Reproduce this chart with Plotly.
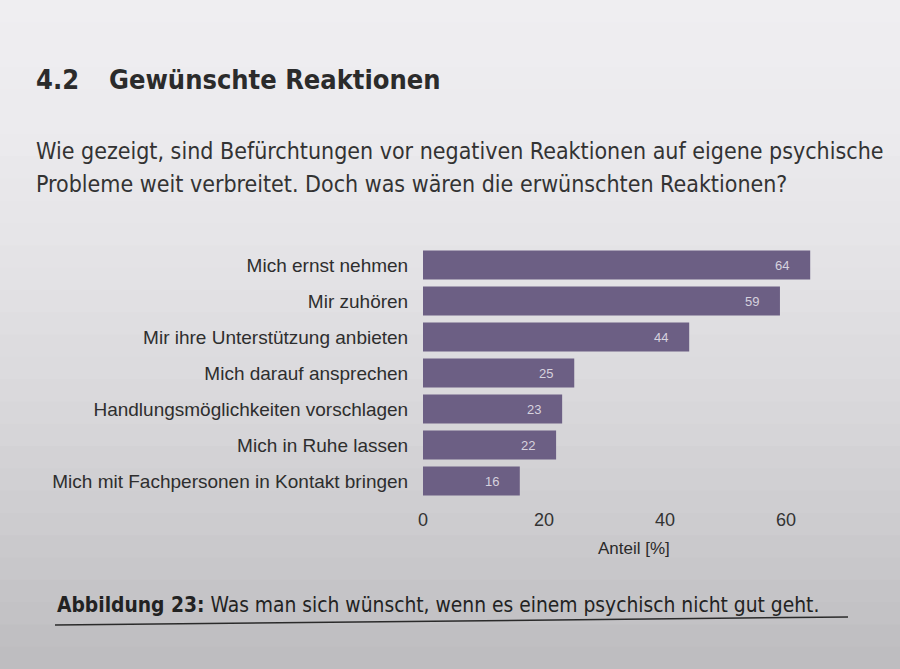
import plotly.graph_objects as go

categories = [
    "Mich ernst nehmen",
    "Mir zuhören",
    "Mir ihre Unterstützung anbieten",
    "Mich darauf ansprechen",
    "Handlungsmöglichkeiten vorschlagen",
    "Mich in Ruhe lassen",
    "Mich mit Fachpersonen in Kontakt bringen",
]
values = [64, 59, 44, 25, 23, 22, 16]
x_ticks = [0, 20, 40, 60]

section_no = "<b>4.2</b>"
section_title = "<b>Gewünschte Reaktionen</b>"
para_lines = [
    "Wie gezeigt, sind Befürchtungen vor negativen Reaktionen auf eigene psychische",
    "Probleme weit verbreitet. Doch was wären die erwünschten Reaktionen?",
]
caption_text = "<b>Abbildung 23:</b> Was man sich wünscht, wenn es einem psychisch nicht gut geht."
axis_title = "Anteil [%]"

W, H = 900, 669
L, R, T, B = 423, 70, 247, 170
PW, PH = W - L - R, H - T - B
BAR = "#6c5f84"
SANS = "Liberation Sans, Arial, sans-serif"
NARROW = "Liberation Sans Narrow, DejaVu Sans Condensed, sans-serif"


def py_to_paper(py):
    return (H - B - py) / PH


def px_to_paper(px):
    return (px - L) / PW


fig = go.Figure()
fig.add_trace(go.Bar(
    x=values, y=categories, orientation="h",
    marker=dict(color=BAR, line=dict(width=0)),
    width=0.8, hoverinfo="skip",
))

annotations = []
for c, v in zip(categories, values):
    annotations.append(dict(x=v, y=c, xref="x", yref="y", text=str(v), showarrow=False,
                            xshift=-28, font=dict(family=SANS, size=13, color="#d6d2de")))

# background shading bands (photo look: lighter top, darker bottom)
shapes = []
n = 30
band_h = H / n
for i in range(n):
    t = i / (n - 1)
    shade = int(0xef - (0xef - 0xbe) * (t ** 1.6))
    col = f"rgb({shade},{shade-1},{shade+2})"
    py0 = i * band_h
    py1 = (i + 1) * band_h + 1
    shapes.append(dict(type="rect", xref="paper", yref="paper",
                       x0=px_to_paper(-5), x1=px_to_paper(W + 5),
                       y0=py_to_paper(py1), y1=py_to_paper(py0),
                       fillcolor=col, line=dict(width=0), layer="below"))
# caption rule
shapes.append(dict(type="line", xref="paper", yref="paper",
                   x0=px_to_paper(55), y0=py_to_paper(625),
                   x1=px_to_paper(848), y1=py_to_paper(617),
                   line=dict(color="#2a2a2a", width=1.5)))

annotations += [
    dict(xref="paper", yref="paper", x=px_to_paper(34), y=py_to_paper(80),
         xanchor="left", yanchor="middle", showarrow=False, text=section_no,
         font=dict(family=NARROW, size=27, color="#2b2b2b")),
    dict(xref="paper", yref="paper", x=px_to_paper(107), y=py_to_paper(80),
         xanchor="left", yanchor="middle", showarrow=False, text=section_title,
         font=dict(family=NARROW, size=27, color="#2b2b2b")),
    dict(xref="paper", yref="paper", x=px_to_paper(34), y=py_to_paper(151),
         xanchor="left", yanchor="middle", showarrow=False, text=para_lines[0],
         font=dict(family=NARROW, size=23, color="#333333")),
    dict(xref="paper", yref="paper", x=px_to_paper(34), y=py_to_paper(184),
         xanchor="left", yanchor="middle", showarrow=False, text=para_lines[1],
         font=dict(family=NARROW, size=23, color="#333333")),
    dict(xref="paper", yref="paper", x=px_to_paper(55), y=py_to_paper(605),
         xanchor="left", yanchor="middle", showarrow=False, text=caption_text,
         font=dict(family=NARROW, size=20.8, color="#222222")),
    dict(xref="paper", yref="paper", x=px_to_paper(634), y=py_to_paper(548),
         xanchor="center", yanchor="middle", showarrow=False, text=axis_title,
         font=dict(family=SANS, size=17, color="#2a2a2a")),
]

fig.update_layout(
    width=W, height=H,
    margin=dict(l=L, r=R, t=T, b=B, pad=0),
    paper_bgcolor="#e2e1e3", plot_bgcolor="rgba(0,0,0,0)",
    showlegend=False,
    bargap=0.2,
)
fig.layout.shapes = shapes
fig.layout.annotations = annotations
fig.update_xaxes(range=[0, PW / 6.05], tickvals=x_ticks, showgrid=False, zeroline=False,
                 showline=False, ticks="outside", ticklen=4, tickcolor="rgba(0,0,0,0)",
                 tickfont=dict(family=SANS, size=18, color="#333333"))
fig.update_yaxes(categoryorder="array", categoryarray=categories[::-1],
                 range=[-0.5, 6.5], showgrid=False, zeroline=False, showline=False,
                 ticks="outside", ticklen=10, tickcolor="rgba(0,0,0,0)",
                 tickfont=dict(family=SANS, size=19, color="#2e2e2e"))

fig.write_html(
    "out.html",
    config={"displayModeBar": False},
    post_script="document.body.style.margin='0';document.body.style.overflow='hidden';"
                "document.body.style.background='#c8c7ca';",
)
